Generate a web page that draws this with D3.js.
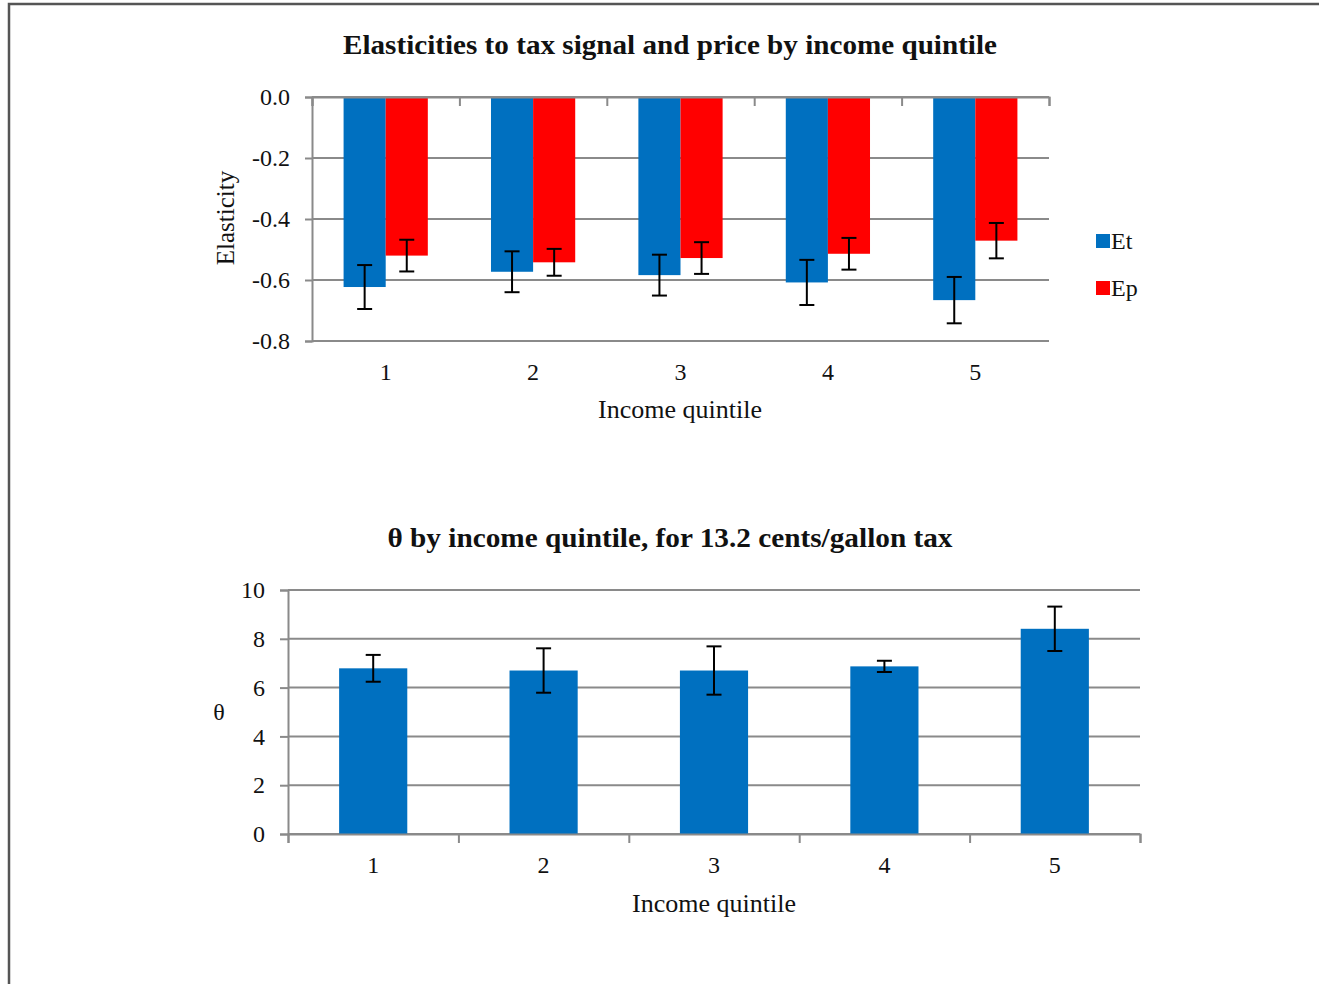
<!DOCTYPE html>
<html>
<head>
<meta charset="utf-8">
<script src="https://cdn.jsdelivr.net/npm/d3@7"></script>
<style>
  body { margin: 0; background: #fff; }
  svg text { font-family: "Liberation Serif", "Times New Roman", serif; fill: #111; }
</style>
</head>
<body>
<div id="chart"></div>
<script>
// data
const quintiles = ['1', '2', '3', '4', '5'];
const series = ['Et', 'Ep'];
const etValues = [-0.623, -0.573, -0.584, -0.608, -0.666];
const etErrors = [0.072, 0.067, 0.067, 0.074, 0.076];
const epValues = [-0.520, -0.542, -0.528, -0.514, -0.471];
const epErrors = [0.052, 0.044, 0.052, 0.052, 0.058];
const elastTicks = [0, -0.2, -0.4, -0.6, -0.8];

const thetaValues = [6.79, 6.70, 6.70, 6.87, 8.41];
const thetaErrors = [0.55, 0.91, 0.99, 0.23, 0.91];
const thetaTicks = [0, 2, 4, 6, 8, 10];

const colors = {Et: '#0070C0', Ep: '#FF0000'};
const gridColor = '#8a8a8a';

const svg = d3.select('#chart').append('svg')
    .attr('width', 1319)
    .attr('height', 984);

// page frame (cut off at the top and right)
svg.append('path')
    .attr('d', 'M9,984 V4 H1319')
    .attr('fill', 'none')
    .attr('stroke', '#555')
    .attr('stroke-width', 2.5);

function errorBars(g, data, xPos, y, cap) {
    const eb = g.append('g').selectAll('g').data(data).join('g');
    eb.append('line')
        .attr('x1', d => xPos(d)).attr('x2', d => xPos(d))
        .attr('y1', d => y(d.v - d.e)).attr('y2', d => y(d.v + d.e));
    eb.append('line')
        .attr('x1', d => xPos(d) - cap / 2).attr('x2', d => xPos(d) + cap / 2)
        .attr('y1', d => y(d.v - d.e)).attr('y2', d => y(d.v - d.e));
    eb.append('line')
        .attr('x1', d => xPos(d) - cap / 2).attr('x2', d => xPos(d) + cap / 2)
        .attr('y1', d => y(d.v + d.e)).attr('y2', d => y(d.v + d.e));
    eb.selectAll('line').attr('stroke', '#000').attr('stroke-width', 2);
}

function styleAxis(g) {
    g.select('.domain').attr('stroke', gridColor).attr('stroke-width', 2);
    g.selectAll('.tick line').attr('stroke', gridColor).attr('stroke-width', 2);
}

// ---------- top chart: elasticities ----------
{
    const left = 312, right = 1049, top = 97, bottom = 341;
    const g = svg.append('g');

    const x0 = d3.scaleBand().domain(quintiles).range([left, right]);
    const x1 = d3.scaleBand().domain(series).range([0, x0.bandwidth()]).paddingOuter(0.75);
    const xb = d3.scaleLinear().domain([0, quintiles.length]).range([left, right]);
    const y = d3.scaleLinear().domain([-0.8, 0]).range([bottom, top]);

    // gridlines
    g.append('g').selectAll('line').data(elastTicks).join('line')
        .attr('x1', left).attr('x2', right)
        .attr('y1', d => y(d)).attr('y2', d => y(d))
        .attr('stroke', gridColor).attr('stroke-width', 2);

    const rows = quintiles.map((q, i) => [
        {q, s: 'Et', v: etValues[i], e: etErrors[i]},
        {q, s: 'Ep', v: epValues[i], e: epErrors[i]}
    ]).flat();

    g.append('g').selectAll('rect').data(rows).join('rect')
        .attr('x', d => x0(d.q) + x1(d.s))
        .attr('width', x1.bandwidth())
        .attr('y', y(0))
        .attr('height', d => y(d.v) - y(0))
        .attr('fill', d => colors[d.s]);

    errorBars(g, rows, d => x0(d.q) + x1(d.s) + x1.bandwidth() / 2, y, 15);

    // y axis
    const ya = g.append('g').attr('transform', `translate(${left},0)`)
        .call(d3.axisLeft(y).tickValues(elastTicks).tickSize(7).tickPadding(15)
            .tickFormat(d => d.toFixed(1)));
    styleAxis(ya);
    ya.selectAll('text').style('font-size', '24px').attr('fill', '#111');

    // category axis at zero, ticks pointing into the plot
    const xa = g.append('g').attr('transform', `translate(0,${y(0)})`)
        .call(d3.axisBottom(xb).tickValues(d3.range(quintiles.length + 1)).tickSize(9).tickFormat(''));
    styleAxis(xa);

    // category labels under the plot
    const xl = g.append('g').attr('transform', `translate(0,${bottom})`)
        .call(d3.axisBottom(x0).tickSize(0).tickPadding(22));
    xl.select('.domain').remove();
    xl.selectAll('text').style('font-size', '24px').attr('fill', '#111');

    g.append('text')
        .attr('x', 680).attr('y', 418)
        .attr('text-anchor', 'middle')
        .style('font-size', '26px')
        .text('Income quintile');

    g.append('text')
        .attr('transform', `translate(234,${(top + bottom) / 2 - 1}) rotate(-90)`)
        .attr('text-anchor', 'middle')
        .style('font-size', '25px')
        .text('Elasticity');

    g.append('text')
        .attr('x', 670).attr('y', 54)
        .attr('text-anchor', 'middle')
        .attr('textLength', 654).attr('lengthAdjust', 'spacingAndGlyphs')
        .style('font-size', '27px').style('font-weight', 'bold')
        .text('Elasticities to tax signal and price by income quintile');

    // legend
    const lg = g.append('g').selectAll('g').data(series).join('g')
        .attr('transform', (d, i) => `translate(1096,${234 + i * 47})`);
    lg.append('rect').attr('width', 14).attr('height', 14).attr('fill', d => colors[d]);
    lg.append('text').attr('x', 15).attr('y', 15)
        .style('font-size', '24px')
        .text(d => d);
}

// ---------- bottom chart: theta ----------
{
    const left = 288, right = 1140, top = 590, bottom = 834;
    const g = svg.append('g');

    const x = d3.scaleBand().domain(quintiles).range([left, right]).paddingInner(0.6).paddingOuter(0.3);
    const xb = d3.scaleLinear().domain([0, quintiles.length]).range([left, right]);
    const y = d3.scaleLinear().domain([0, 10]).range([bottom, top]);

    g.append('g').selectAll('line').data(thetaTicks).join('line')
        .attr('x1', left).attr('x2', right)
        .attr('y1', d => y(d)).attr('y2', d => y(d))
        .attr('stroke', gridColor).attr('stroke-width', 2);

    const rows = quintiles.map((q, i) => ({q, v: thetaValues[i], e: thetaErrors[i]}));

    g.append('g').selectAll('rect').data(rows).join('rect')
        .attr('x', d => x(d.q))
        .attr('width', x.bandwidth())
        .attr('y', d => y(d.v))
        .attr('height', d => y(0) - y(d.v))
        .attr('fill', colors.Et);

    errorBars(g, rows, d => x(d.q) + x.bandwidth() / 2, y, 15);

    const ya = g.append('g').attr('transform', `translate(${left},0)`)
        .call(d3.axisLeft(y).tickValues(thetaTicks).tickSize(8).tickPadding(15));
    styleAxis(ya);
    ya.selectAll('text').style('font-size', '24px').attr('fill', '#111');

    const xa = g.append('g').attr('transform', `translate(0,${bottom})`)
        .call(d3.axisBottom(xb).tickValues(d3.range(quintiles.length + 1)).tickSize(9).tickFormat(''));
    styleAxis(xa);

    const xl = g.append('g').attr('transform', `translate(0,${bottom})`)
        .call(d3.axisBottom(x).tickSize(0).tickPadding(22));
    xl.select('.domain').remove();
    xl.selectAll('text').style('font-size', '24px').attr('fill', '#111');

    g.append('text')
        .attr('x', 714).attr('y', 912)
        .attr('text-anchor', 'middle')
        .style('font-size', '26px')
        .text('Income quintile');

    g.append('text')
        .attr('x', 219).attr('y', 720)
        .attr('text-anchor', 'middle')
        .style('font-size', '24px')
        .text('θ');

    g.append('text')
        .attr('x', 670).attr('y', 547)
        .attr('text-anchor', 'middle')
        .attr('textLength', 565).attr('lengthAdjust', 'spacingAndGlyphs')
        .style('font-size', '27px').style('font-weight', 'bold')
        .text('θ by income quintile, for 13.2 cents/gallon tax');
}
</script>
</body>
</html>
